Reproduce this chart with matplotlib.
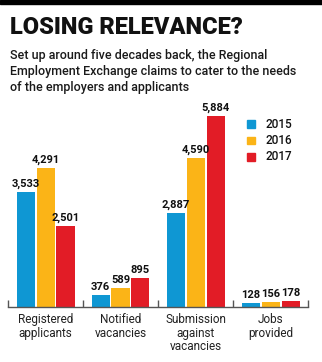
import matplotlib.pyplot as plt
import numpy as np
from matplotlib.patches import Rectangle

categories = ['Registered\napplicants', 'Notified\nvacancies', 'Submission\nagainst\nvacancies', 'Jobs\nprovided']
years = ['2015', '2016', '2017']
v2015 = [3533, 376, 2887, 128]
v2016 = [4291, 589, 4590, 156]
v2017 = [2501, 895, 5884, 178]
colors = ['#0f97d3', '#fbb417', '#e21c26']

W, H = 322, 362
fig = plt.figure(figsize=(W / 100, H / 100), dpi=100)
fig.patch.set_facecolor('white')
FONT = ['Roboto', 'DejaVu Sans']

# black strip along the top
fig.add_artist(Rectangle((0, 1 - 4 / H), 1, 4 / H, transform=fig.transFigure,
                         color='black', zorder=10))

fig.text(10 / W, 1 - 28 / H, 'LOSING RELEVANCE?', fontsize=17, fontweight='black',
         family=FONT, va='center', ha='left', color='#111111')
sub = ['Set up around five decades back, the Regional',
       'Employment Exchange claims to cater to the needs',
       'of the employers and applicants']
for i, line in enumerate(sub):
    fig.text(10 / W, 1 - (55 + 16.5 * i) / H, line, fontsize=9, fontweight='medium',
             family=FONT, va='center', ha='left', color='#1a1a1a')

# axes: baseline at y=307px, 5884 at y=116px, x from 8 to 308px
top = 116
base = 307
ax = fig.add_axes([8 / W, (H - base) / H, 300 / W, (base - top) / H])
ax.set_xlim(0, 4)
ax.set_ylim(0, max(v2017))
ax.patch.set_alpha(0)

x = np.arange(len(categories)) + 0.5
bw = 18 / 75
off = 20 / 75
for vals, c, dx in zip([v2015, v2016, v2017], colors, [-off, 0, off]):
    bars = ax.bar(x + dx, vals, width=bw, color=c, zorder=2)
    for b, v in zip(bars, vals):
        ax.text(b.get_x() + b.get_width() / 2, v + 90, f'{v:,}', ha='center', va='bottom',
                fontsize=8, fontweight='bold', family=FONT,
                color='#111111', clip_on=False)

for s in ['top', 'right', 'left']:
    ax.spines[s].set_visible(False)
ax.spines['bottom'].set_color('#555555')
ax.spines['bottom'].set_linewidth(1)
ax.set_yticks([])
ax.set_xticks([0, 1, 2, 3, 4])
ax.set_xticklabels([])
ax.tick_params(axis='x', direction='in', length=5, color='#555555', width=1)

for xi, cat in zip(x, categories):
    ax.text(xi, -200, cat, ha='center', va='top', fontsize=8.5, linespacing=1.05,
            family=FONT, color='#222222')

# legend
for i, (yr, c) in enumerate(zip(years, colors)):
    yc = 124 + 16.5 * i
    fig.add_artist(Rectangle((247 / W, 1 - (yc + 4) / H), 8 / W, 8 / H,
                             transform=fig.transFigure, color=c))
    fig.text(265 / W, 1 - yc / H, yr, fontsize=8.5, fontweight='medium',
             family=FONT, va='center', ha='left', color='#111111')

fig.savefig('out.png', dpi=100)
